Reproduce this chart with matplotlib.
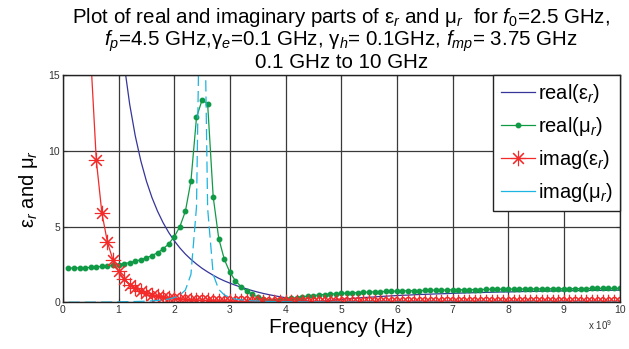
import numpy as np
import matplotlib
matplotlib.use("Agg")
import matplotlib.pyplot as plt

plt.rcParams['font.family'] = ['Liberation Sans', 'DejaVu Sans']
plt.rcParams['mathtext.fontset'] = 'custom'
plt.rcParams['mathtext.rm'] = 'Liberation Sans'
plt.rcParams['mathtext.it'] = 'Liberation Sans:italic'
plt.rcParams['mathtext.bf'] = 'Liberation Sans:bold'

# frequency grid, 0.1 GHz to 10 GHz in 0.1 GHz steps (values in Hz)
freq_ghz = np.round(np.arange(1, 101) * 0.1, 1)
freq_hz = freq_ghz * 1e9

# real(eps_r)
real_eps = [2024, 505, 224, 126, 80, 55.3, 40.3, 30.6, 24.0, 19.25,
            15.74, 13.06, 10.98, 9.33, 8.0, 6.91, 6.01, 5.25, 4.61, 4.06,
            3.59, 3.18, 2.83, 2.52, 2.24, 2.0, 1.78, 1.58, 1.41, 1.26,
            1.12, 1.0, 0.88, 0.77, 0.67, 0.58, 0.5, 0.43, 0.36, 0.3,
            0.23, 0.17, 0.12, 0.07, 0.03, 0.04, 0.08, 0.12, 0.16, 0.19,
            0.22, 0.25, 0.28, 0.31, 0.33, 0.35, 0.38, 0.40, 0.42, 0.44,
            0.46, 0.47, 0.49, 0.51, 0.52, 0.535, 0.55, 0.56, 0.57, 0.59,
            0.60, 0.61, 0.62, 0.63, 0.64, 0.65, 0.66, 0.67, 0.68, 0.68,
            0.69, 0.70, 0.71, 0.71, 0.72, 0.73, 0.73, 0.74, 0.74, 0.75,
            0.76, 0.76, 0.77, 0.77, 0.78, 0.78, 0.78, 0.79, 0.79, 0.80]

# real(mu_r), green dotted curve
real_mu = [2.25, 2.26, 2.27, 2.28, 2.30, 2.33, 2.36, 2.39, 2.44, 2.49,
           2.55, 2.62, 2.71, 2.81, 2.93, 3.08, 3.27, 3.52, 3.85, 4.32,
           4.98, 6.0, 8.0, 12.2, 13.35, 13.1, 6.95, 4.2, 2.83, 1.97,
           1.42, 1.03, 0.74, 0.52, 0.34, 0.2, 0.08, 0.05, 0.13, 0.2,
           0.26, 0.31, 0.36, 0.40, 0.44, 0.48, 0.51, 0.535, 0.56, 0.58,
           0.60, 0.62, 0.64, 0.66, 0.67, 0.69, 0.70, 0.71, 0.72, 0.74,
           0.75, 0.76, 0.76, 0.77, 0.78, 0.79, 0.80, 0.80, 0.81, 0.82,
           0.82, 0.83, 0.83, 0.84, 0.84, 0.85, 0.85, 0.86, 0.86, 0.865,
           0.87, 0.87, 0.875, 0.88, 0.88, 0.885, 0.885, 0.89, 0.89, 0.895,
           0.90, 0.90, 0.90, 0.905, 0.91, 0.91, 0.91, 0.915, 0.915, 0.92]

# imag(eps_r), red asterisk curve
imag_eps = [2025, 253, 75, 31.6, 16.2, 9.38, 5.9, 3.96, 2.78, 2.03,
            1.52, 1.17, 0.92, 0.74, 0.6, 0.49, 0.41, 0.35, 0.3, 0.25,
            0.22, 0.19, 0.17, 0.15, 0.13, 0.115, 0.1, 0.09, 0.083, 0.075,
            0.068, 0.062, 0.056, 0.052, 0.047, 0.043, 0.04, 0.037, 0.034, 0.032,
            0.029, 0.027, 0.025, 0.024, 0.022, 0.021, 0.02, 0.018, 0.017, 0.016,
            0.015, 0.014, 0.014, 0.013, 0.012, 0.012, 0.011, 0.01, 0.01, 0.009,
            0.009, 0.008, 0.008, 0.008, 0.007, 0.007, 0.007, 0.006, 0.006, 0.006,
            0.006, 0.005, 0.005, 0.005, 0.005, 0.005, 0.004, 0.004, 0.004, 0.004,
            0.004, 0.004, 0.003, 0.003, 0.003, 0.003, 0.003, 0.003, 0.003, 0.003,
            0.003, 0.003, 0.002, 0.002, 0.002, 0.002, 0.002, 0.002, 0.002, 0.002]

# imag(mu_r), cyan dashed curve
imag_mu = [0.0, 0.001, 0.002, 0.003, 0.004, 0.006, 0.009, 0.012, 0.018, 0.028,
           0.034, 0.04, 0.048, 0.058, 0.073, 0.092, 0.118, 0.155, 0.21, 0.3,
           0.47, 0.8, 1.84, 6.3, 31.25, 6.2, 1.83, 0.84, 0.48, 0.31,
           0.21, 0.16, 0.12, 0.095, 0.076, 0.062, 0.051, 0.043, 0.037, 0.033,
           0.028, 0.025, 0.022, 0.02, 0.018, 0.016, 0.015, 0.013, 0.012, 0.011,
           0.01, 0.009, 0.009, 0.008, 0.008, 0.007, 0.007, 0.006, 0.006, 0.006,
           0.005, 0.005, 0.005, 0.004, 0.004, 0.004, 0.004, 0.004, 0.003, 0.003,
           0.003, 0.003, 0.003, 0.003, 0.003, 0.002, 0.002, 0.002, 0.002, 0.002,
           0.002, 0.002, 0.002, 0.002, 0.002, 0.002, 0.002, 0.002, 0.001, 0.001,
           0.001, 0.001, 0.001, 0.001, 0.001, 0.001, 0.001, 0.001, 0.001, 0.001]

fig = plt.figure(figsize=(6.29, 3.49), dpi=100)
ax = fig.add_axes([0.1, 0.134, 0.885, 0.651])

ax.plot(freq_hz, real_eps, color='#35359a', lw=0.9, label=r'real($\mathrm{ε}_r$)')
ax.plot(freq_hz, real_mu, color='#109a45', lw=0.9, marker='o', ms=3.2,
        label=r'real($\mathrm{μ}_r$)')
ax.plot(freq_hz, imag_eps, color='#f22a2a', lw=0.9, marker=(8, 2, 0), ms=11,
        mew=0.8, label=r'imag($\mathrm{ε}_r$)')
ax.plot(freq_hz, imag_mu, color='#1cb4e0', lw=0.9, dashes=(9, 4),
        label=r'imag($\mathrm{μ}_r$)')

ax.set_xlim(0, 10e9)
ax.set_ylim(0, 15)
ax.set_xticks(np.arange(0, 11) * 1e9)
ax.set_xticklabels([str(i) for i in range(11)])
ax.set_yticks([0, 5, 10, 15])
ax.tick_params(direction='in', length=3, labelsize=7.5, colors='#333333',
               top=True, right=True, pad=2)
ax.grid(True, color='#3a3a3a', lw=0.9)
for s in ax.spines.values():
    s.set_color('#222222')
    s.set_linewidth(1.0)

ax.set_xlabel('Frequency (Hz)', fontsize=15, labelpad=2)
ax.set_ylabel(r'$\mathrm{ε}_r$ and $\mathrm{μ}_r$', fontsize=14.5, labelpad=6)
fig.text(0.973, 1 - 325 / 349, r'x 10$^9$', fontsize=7, color='#333333',
         ha='right', va='center')

title = ("Plot of real and imaginary parts of $\\mathrm{ε}_r$ and $\\mathrm{μ}_r$  for $f_0$=2.5 GHz,\n"
         "$f_p$=4.5 GHz,$\\mathrm{γ}_e$=0.1 GHz, $\\mathrm{γ}_h$= 0.1GHz, $f_{mp}$= 3.75 GHz\n"
         "0.1 GHz to 10 GHz")
ax.set_title(title, fontsize=14.8, linespacing=0.95, pad=5)

leg = ax.legend(loc='upper right', fontsize=14.5, borderaxespad=0, fancybox=False,
                framealpha=1, edgecolor='#222222', handlelength=1.7,
                handletextpad=0.15, labelspacing=0.5, borderpad=0.35)
leg.get_frame().set_linewidth(1.0)
leg.get_lines()[3].set_dashes((None, None))
leg.get_lines()[3].set_linestyle('-')

fig.savefig('out.png', dpi=100)
